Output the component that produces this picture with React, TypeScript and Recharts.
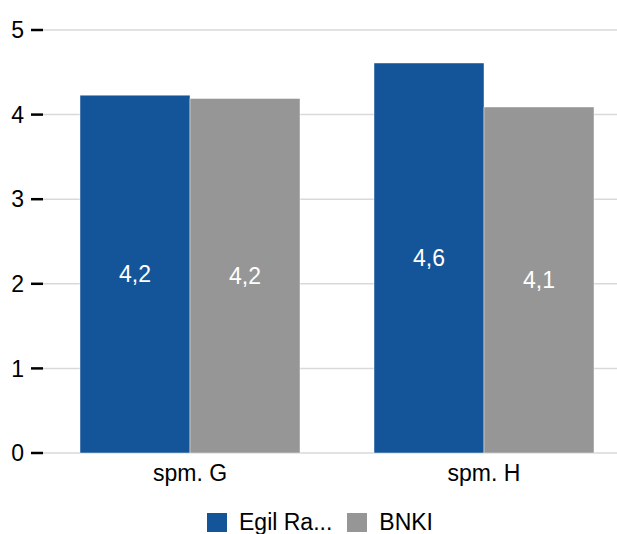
import React from "react";
import { BarChart, Bar, XAxis, YAxis, CartesianGrid, Legend, LabelList } from "recharts";

const categories = ["spm. G", "spm. H"];
const egilValues = [4.23, 4.61];
const bnkiValues = [4.19, 4.09];
const seriesNames = ["Egil Ra...", "BNKI"];
const yTicks = [0, 1, 2, 3, 4, 5];

const BLUE = "#14559a";
const GRAY = "#969696";
const FONT = "'Liberation Sans', Arial, sans-serif";
const FS = 23;

const data = categories.map((c, i) => ({ name: c, egil: egilValues[i], bnki: bnkiValues[i] }));

const fmt = (v: any) => Number(v).toFixed(1).replace(".", ",");

const LegendContent = () => {
  const items = [
    { name: seriesNames[0], color: BLUE },
    { name: seriesNames[1], color: GRAY },
  ];
  return (
    <div style={{ display: "flex", alignItems: "center", fontFamily: FONT, fontSize: FS, color: "#000", lineHeight: "26px", whiteSpace: "nowrap" }}>
      {items.map((it, i) => (
        <div key={i} style={{ display: "flex", alignItems: "center", marginRight: i === 0 ? 15 : 0 }}>
          <div style={{ width: 20, height: 19, background: it.color, marginRight: 12 }} />
          <span>{it.name}</span>
        </div>
      ))}
    </div>
  );
};

export default function App() {
  return (
    <div style={{ position: "absolute", left: 0, top: 0, width: 617, height: 534, overflow: "hidden", background: "#fff" }}>
      <BarChart
        width={640}
        height={534}
        data={data}
        margin={{ top: 30, right: 9, bottom: 51, left: 0 }}
        barCategoryGap={37}
        barGap={0}
      >
        <CartesianGrid horizontal vertical={false} stroke="#d9d9d9" strokeWidth={1.5} />
        <XAxis
          dataKey="name"
          axisLine={false}
          tickLine={false}
          tickSize={0}
          tickMargin={12}
          height={30}
          tick={{ fill: "#000", fontSize: FS, fontFamily: FONT }}
        />
        <YAxis
          domain={[0, 5]}
          ticks={yTicks}
          width={43}
          axisLine={false}
          tickSize={12}
          tickMargin={7}
          tickLine={{ stroke: "#000", strokeWidth: 2.5 }}
          tick={{ fill: "#000", fontSize: FS, fontFamily: FONT }}
        />
        <Legend
          layout="horizontal"
          verticalAlign="middle"
          align="center"
          content={<LegendContent />}
          wrapperStyle={{ top: 509, left: 207, width: "auto", height: "auto" }}
        />
        <Bar dataKey="egil" name={seriesNames[0]} fill={BLUE} stroke="#ffffff" strokeOpacity={0.45} strokeWidth={1} isAnimationActive={false}>
          <LabelList dataKey="egil" position="center" formatter={fmt} fill="#fff" style={{ fontSize: FS, fontFamily: FONT }} />
        </Bar>
        <Bar dataKey="bnki" name={seriesNames[1]} fill={GRAY} stroke="#ffffff" strokeOpacity={0.45} strokeWidth={1} isAnimationActive={false}>
          <LabelList dataKey="bnki" position="center" formatter={fmt} fill="#fff" style={{ fontSize: FS, fontFamily: FONT }} />
        </Bar>
      </BarChart>
    </div>
  );
}
